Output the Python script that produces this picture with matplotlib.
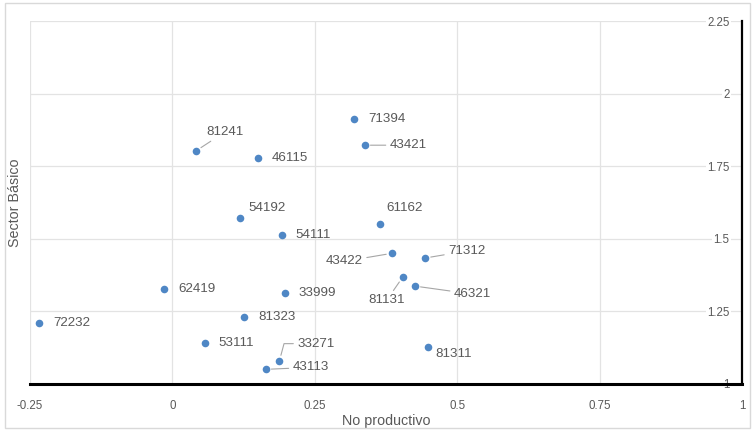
import numpy as np
import matplotlib
matplotlib.use('Agg')
import matplotlib.pyplot as plt
from matplotlib.patches import Rectangle

# Datos
codigos = ['72232', '62419', '53111', '81323', '33999', '33271', '43113',
           '54192', '54111', '81241', '46115', '71394', '43421', '61162',
           '43422', '71312', '81131', '46321', '81311']
no_productivo = [-0.234, -0.014, 0.058, 0.126, 0.198, 0.188, 0.164,
                 0.119, 0.193, 0.042, 0.151, 0.319, 0.338, 0.365,
                 0.385, 0.444, 0.404, 0.426, 0.449]
sector_basico = [1.210, 1.326, 1.141, 1.230, 1.313, 1.079, 1.049,
                 1.570, 1.511, 1.803, 1.777, 1.912, 1.822, 1.549,
                 1.449, 1.433, 1.366, 1.336, 1.125]

ticks_x = [-0.25, 0, 0.25, 0.5, 0.75, 1]
ticks_y = [1, 1.25, 1.5, 1.75, 2, 2.25]
etiquetas_x = ['-0.25', '0', '0.25', '0.5', '0.75', '1']
etiquetas_y = ['1', '1.25', '1.5', '1.75', '2', '2.25']

# Posición de cada etiqueta (pixeles desde el punto, alineación, línea guía)
posiciones = {
    '72232': (14, 0, 'left', None),
    '62419': (14, 0, 'left', None),
    '53111': (13, 0, 'left', None),
    '81323': (14, 0, 'left', None),
    '33999': (13, 0, 'left', None),
    '33271': (18, 17, 'left', 'angle,angleA=0,angleB=75,rad=0'),
    '43113': (27, 2, 'left', 'arc3'),
    '54192': (27, 10, 'center', None),
    '54111': (13, 0, 'left', None),
    '81241': (29, 19, 'center', 'arc3'),
    '46115': (13, 0, 'left', None),
    '71394': (14, 0, 'left', None),
    '43421': (25, 0, 'left', 'arc3'),
    '61162': (24, 16, 'center', None),
    '43422': (-29, -8, 'right', 'arc3'),
    '71312': (23, 7, 'left', 'arc3'),
    '81131': (-16, -23, 'center', 'arc3'),
    '46321': (39, -8, 'left', 'arc3'),
    '81311': (7, -7, 'left', None),
}

gris = '#595959'
azul = '#4f87c5'
plt.rcParams['font.family'] = ['Liberation Sans', 'DejaVu Sans']

fig = plt.figure(figsize=(7.55, 4.3), dpi=100)
fig.patches.append(Rectangle((0.006, 0.005), 0.988, 0.988, transform=fig.transFigure,
                             fill=False, edgecolor='#d9d9d9', linewidth=1))
ax = fig.add_axes([0.0397, 0.108, 0.9431, 0.843])

ax.scatter(no_productivo, sector_basico, s=30, color=azul, zorder=3, linewidths=0)

for cod, x, y in zip(codigos, no_productivo, sector_basico):
    dx, dy, ha, guia = posiciones[cod]
    props = None
    if guia is not None:
        props = dict(arrowstyle='-', color='#a6a6a6', lw=0.8,
                     connectionstyle=guia, shrinkA=1, shrinkB=4)
    ax.annotate(cod, (x, y), xytext=(dx, dy), textcoords='offset pixels',
                ha=ha, va='center', fontsize=9.6, color=gris,
                arrowprops=props, zorder=4)

ax.set_xlim(-0.25, 1)
ax.set_ylim(1, 2.25)
ax.set_xticks(ticks_x)
ax.set_xticklabels(etiquetas_x)
ax.set_yticks(ticks_y)
ax.set_yticklabels(etiquetas_y)
ax.grid(True, color='#e3e3e3', linewidth=0.9, zorder=0)
ax.set_axisbelow(True)

for lado in ['left', 'top']:
    ax.spines[lado].set_visible(False)
ax.spines['bottom'].set_color('black')
ax.spines['bottom'].set_linewidth(2.2)
ax.spines['right'].set_color('black')
ax.spines['right'].set_linewidth(1.6)

ax.yaxis.tick_right()
ax.tick_params(axis='x', length=0, pad=12, labelsize=8.3, labelcolor=gris)
ax.tick_params(axis='y', length=0, pad=-9, labelsize=8.3, labelcolor=gris)
for t in ax.get_yticklabels():
    t.set_horizontalalignment('right')
    t.set_bbox(dict(facecolor='white', edgecolor='none', pad=1))

ax.set_xlabel('No productivo', fontsize=10.3, color=gris, labelpad=1)
ax.set_ylabel('Sector Básico', fontsize=10.3, color=gris)
ax.yaxis.set_label_position('left')
ax.yaxis.set_label_coords(-0.011, 0.5)

fig.savefig('out.png', dpi=100)
